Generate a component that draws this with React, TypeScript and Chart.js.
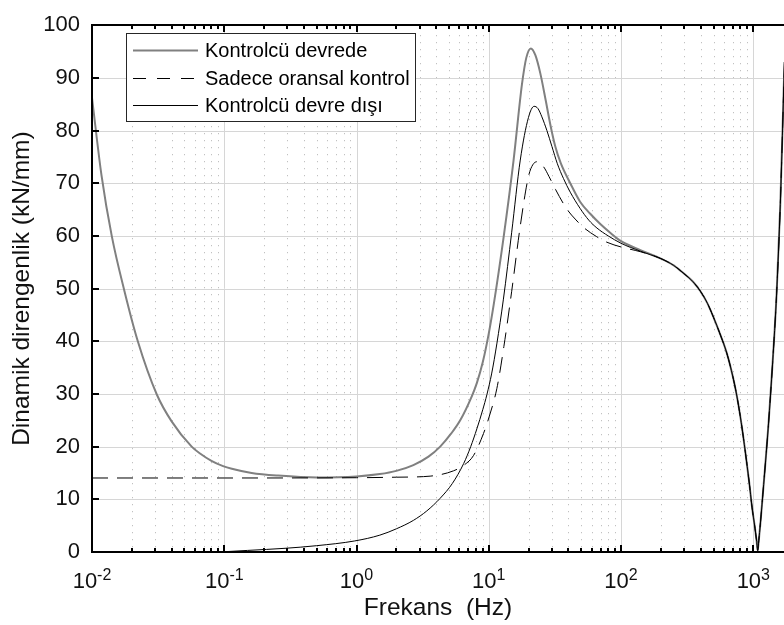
import React, { useEffect, useRef } from 'react';
import { Chart, registerables } from 'chart.js';

Chart.register(...registerables);

const FONT = "'Liberation Sans', Arial, Helvetica, sans-serif";

// Axis ranges and ticks
const xMin = 0.01;
const xMax = 1706;
const yMin = 0;
const yMax = 100;
const yStep = 10;
const xDecades = [-2, -1, 0, 1, 2, 3];
const xTickExponents = ['-2', '-1', '0', '1', '2', '3'];

const seriesNames = ['Kontrolcü devrede', 'Sadece oransal kontrol', 'Kontrolcü devre dışı'];
const xTitle = 'Frekans  (Hz)';
const yTitle = 'Dinamik direngenlik (kN/mm)';

// Shared high-frequency part (all three curves coincide above ~200 Hz)
const tailFreq = [200, 250, 297, 350, 398, 450, 501, 560, 631, 700, 751, 810, 870, 930, 978, 1030, 1060, 1079, 1100, 1130, 1197, 1300, 1400, 1500, 1600, 1720];
const tailVals = [55.7, 54.4, 52.9, 51.3, 49.5, 47.2, 44.5, 41.4, 37.7, 33.3, 29.6, 24.6, 19.0, 13.3, 8.5, 4.5, 2.0, 0.3, 2.2, 5.3, 12.8, 24.0, 36.0, 49.0, 66.0, 93.0];

// Kontrolcü devrede (gray)
const grayFreq = [0.01, 0.0118, 0.0141, 0.0176, 0.0222, 0.0309, 0.04, 0.0567, 0.0656, 0.08, 0.098, 0.114, 0.161, 0.256, 0.5, 1.0, 1.5, 2.0, 2.69, 3.5, 4.29, 5.2, 6.08, 7.45, 8.13, 9.0, 10.0, 10.9, 12.9, 15.4, 17.8, 19.2, 20.8, 22.5, 24.5, 27, 29.1, 31.8, 35, 41.3, 49, 58.5, 70, 82.8, 100, 140];
const grayVals = [86.2, 71.5, 60.0, 49.5, 40.0, 29.9, 24.8, 20.0, 18.7, 17.3, 16.3, 15.8, 15.0, 14.5, 14.15, 14.35, 14.8, 15.4, 16.5, 18.1, 20.0, 22.5, 25.0, 29.6, 32.1, 36.0, 41.5, 47.0, 59.5, 74.4, 88.7, 93.8, 95.6, 94.3, 90.9, 85.6, 81.3, 77.0, 73.8, 70.0, 66.5, 64.2, 62.2, 60.6, 59.0, 57.3];

// Sadece oransal kontrol (dashed)
const dashFreq = [0.01, 0.1, 1.0, 2.0, 3.6, 5.4, 6.5, 7.66, 9.12, 10.1, 11.5, 13.0, 14.9, 17.3, 19.96, 21.5, 23.4, 26.0, 28.5, 32.0, 38.9, 45, 52.1, 65, 78.2, 100, 140];
const dashVals = [14.05, 14.05, 14.1, 14.2, 14.4, 15.4, 16.5, 18.3, 22.5, 25.8, 31.0, 39.0, 49.5, 61.9, 71.3, 73.5, 74.1, 73.1, 71.3, 68.8, 65.1, 63.2, 61.6, 59.9, 58.8, 57.9, 57.0];

// Kontrolcü devre dışı (thin black)
const blackFreq = [0.1, 0.15, 0.288, 0.5, 0.97, 1.5, 2.0, 2.69, 3.4, 4.29, 5.3, 6.46, 7.3, 8.13, 9.0, 9.68, 10.5, 11.5, 12.9, 14.9, 17.3, 19.96, 22.0, 23.5, 25.2, 27.5, 30, 33, 36.7, 41.3, 49.1, 57, 65.7, 80, 100, 140];
const blackVals = [0.05, 0.3, 0.7, 1.2, 2.1, 3.2, 4.4, 6.0, 7.8, 10.2, 13.0, 16.8, 20.0, 23.4, 27.0, 29.9, 33.8, 39.5, 48.0, 60.7, 74.4, 82.5, 84.6, 84.2, 82.6, 80.0, 77.0, 73.7, 70.9, 68.3, 65.2, 63.0, 61.5, 60.0, 58.6, 57.1];

const toPoints = (fs: number[], vs: number[]) => fs.map((f, i) => ({ x: f, y: vs[i] }));

const W = 784;
const H = 625;

function minorFreqs(): number[] {
  const out: number[] = [];
  for (const d of xDecades) {
    for (let m = 2; m <= 9; m++) {
      const f = m * Math.pow(10, d);
      if (f > xMin && f < xMax) out.push(f);
    }
  }
  return out;
}

const matlabPlugin = {
  id: 'matlabAxes',
  beforeDatasetsDraw(chart: any) {
    const { ctx, chartArea: ca, scales } = chart;
    const xs = scales.x;
    const ys = scales.y;
    ctx.save();
    // minor dotted vertical grid
    ctx.strokeStyle = 'rgba(0,0,0,0.3)';
    ctx.lineWidth = 1;
    ctx.setLineDash([1, 6]);
    for (const f of minorFreqs()) {
      const px = Math.round(xs.getPixelForValue(f)) + 0.5;
      ctx.beginPath();
      ctx.moveTo(px, ca.top + 3);
      ctx.lineTo(px, ca.bottom);
      ctx.stroke();
    }
    // major grid
    ctx.setLineDash([]);
    ctx.strokeStyle = '#d6d6d6';
    for (const d of xDecades) {
      const f = Math.pow(10, d);
      if (f <= xMin || f >= xMax) continue;
      const px = Math.round(xs.getPixelForValue(f)) + 0.5;
      ctx.beginPath();
      ctx.moveTo(px, ca.top);
      ctx.lineTo(px, ca.bottom);
      ctx.stroke();
    }
    for (let v = yMin + yStep; v < yMax; v += yStep) {
      const py = Math.round(ys.getPixelForValue(v)) + 0.5;
      ctx.beginPath();
      ctx.moveTo(ca.left, py);
      ctx.lineTo(ca.right, py);
      ctx.stroke();
    }
    ctx.restore();
  },
  afterDraw(chart: any) {
    const { ctx, chartArea: ca, scales } = chart;
    const xs = scales.x;
    const ys = scales.y;
    ctx.save();
    ctx.strokeStyle = '#000';
    ctx.lineWidth = 2;
    // axis lines
    ctx.beginPath();
    ctx.moveTo(Math.round(ca.left), Math.round(ca.top));
    ctx.lineTo(Math.round(ca.left), Math.round(ca.bottom));
    ctx.moveTo(Math.round(ca.left) - 1, Math.round(ca.bottom));
    ctx.lineTo(ca.right, Math.round(ca.bottom));
    ctx.moveTo(Math.round(ca.left) - 1, Math.round(ca.top));
    ctx.lineTo(ca.right, Math.round(ca.top));
    ctx.stroke();
    // ticks (inward)
    const majorLen = 7;
    const minorLen = 4;
    const top = Math.round(ca.top);
    const bot = Math.round(ca.bottom);
    ctx.beginPath();
    for (const d of xDecades) {
      const f = Math.pow(10, d);
      if (f < xMin || f > xMax) continue;
      const px = Math.round(xs.getPixelForValue(f));
      ctx.moveTo(px, bot);
      ctx.lineTo(px, bot - majorLen);
      ctx.moveTo(px, top);
      ctx.lineTo(px, top + majorLen);
    }
    for (const f of minorFreqs()) {
      const px = Math.round(xs.getPixelForValue(f));
      ctx.moveTo(px, bot);
      ctx.lineTo(px, bot - minorLen);
      ctx.moveTo(px, top);
      ctx.lineTo(px, top + minorLen);
    }
    for (let v = yMin; v <= yMax; v += yStep) {
      const py = Math.round(ys.getPixelForValue(v));
      ctx.moveTo(Math.round(ca.left), py);
      ctx.lineTo(Math.round(ca.left) + majorLen, py);
    }
    ctx.stroke();

    // x tick labels with superscript exponents
    ctx.fillStyle = '#111';
    ctx.textBaseline = 'alphabetic';
    ctx.textAlign = 'left';
    xDecades.forEach((d, i) => {
      const f = Math.pow(10, d);
      if (f < xMin || f > xMax) return;
      const px = xs.getPixelForValue(f);
      ctx.font = `22px ${FONT}`;
      const w1 = ctx.measureText('10').width;
      ctx.font = `16px ${FONT}`;
      const w2 = ctx.measureText(xTickExponents[i]).width;
      const x0 = px - (w1 + w2) / 2;
      ctx.font = `22px ${FONT}`;
      ctx.fillText('10', x0, 588);
      ctx.font = `16px ${FONT}`;
      ctx.fillText(xTickExponents[i], x0 + w1, 580);
    });

    // legend
    const lx = 126.5, ly = 33.5, lw = 289, lh = 88;
    ctx.fillStyle = '#fff';
    ctx.fillRect(lx, ly, lw, lh);
    ctx.strokeStyle = '#262626';
    ctx.lineWidth = 1;
    ctx.strokeRect(lx, ly, lw, lh);
    const rows = [50, 78, 105];
    const styles = [
      { color: '#808080', width: 2, dash: [] as number[] },
      { color: '#000', width: 1, dash: [13, 11] },
      { color: '#000', width: 1, dash: [] as number[] },
    ];
    ctx.font = `20px ${FONT}`;
    ctx.textBaseline = 'middle';
    rows.forEach((ry, i) => {
      const s = styles[i];
      ctx.strokeStyle = s.color;
      ctx.lineWidth = s.width;
      ctx.setLineDash(s.dash);
      ctx.beginPath();
      ctx.moveTo(133, ry + 0.5);
      ctx.lineTo(198, ry + 0.5);
      ctx.stroke();
      ctx.setLineDash([]);
      ctx.fillStyle = '#000';
      ctx.fillText(seriesNames[i], 205, ry + 1);
    });
    ctx.restore();
  },
};

export default function App() {
  const canvasRef = useRef<HTMLCanvasElement | null>(null);

  useEffect(() => {
    if (!canvasRef.current) return;
    const chart = new Chart(canvasRef.current, {
      type: 'line',
      data: {
        datasets: [
          {
            label: seriesNames[0],
            data: toPoints([...grayFreq, ...tailFreq], [...grayVals, ...tailVals]),
            borderColor: '#808080',
            borderWidth: 2,
            pointRadius: 0,
            cubicInterpolationMode: 'monotone',
            order: 3,
          },
          {
            label: seriesNames[1],
            data: toPoints([...dashFreq, ...tailFreq], [...dashVals, ...tailVals]),
            borderColor: '#000',
            borderWidth: 1,
            borderDash: [16, 9],
            pointRadius: 0,
            cubicInterpolationMode: 'monotone',
            order: 2,
          },
          {
            label: seriesNames[2],
            data: toPoints([...blackFreq, ...tailFreq], [...blackVals, ...tailVals]),
            borderColor: '#000',
            borderWidth: 1,
            pointRadius: 0,
            cubicInterpolationMode: 'monotone',
            order: 1,
          },
        ],
      },
      options: {
        animation: false,
        responsive: true,
        maintainAspectRatio: false,
        layout: { padding: { top: 16, left: 0, right: 0, bottom: 0 } },
        plugins: {
          legend: { display: false },
          tooltip: { enabled: false },
        },
        scales: {
          x: {
            type: 'logarithmic',
            min: xMin,
            max: xMax,
            grid: { display: false },
            border: { display: false },
            ticks: { display: false },
            title: {
              display: true,
              text: xTitle,
              color: '#111',
              font: { family: FONT, size: 24.5 },
              padding: { top: 0, bottom: 2 },
            },
            afterFit: (scale: any) => {
              scale.height = 73;
            },
          },
          y: {
            type: 'linear',
            min: yMin,
            max: yMax,
            grid: { display: false, drawTicks: false },
            border: { display: false },
            ticks: {
              stepSize: yStep,
              color: '#111',
              padding: 12,
              font: { family: FONT, size: 22 },
            },
            title: {
              display: true,
              text: yTitle,
              color: '#111',
              font: { family: FONT, size: 24.5 },
              padding: { top: 8, bottom: 0 },
            },
            afterFit: (scale: any) => {
              scale.width = 92;
            },
          },
        },
      },
      plugins: [matlabPlugin],
    });
    return () => chart.destroy();
  }, []);

  return (
    <div style={{ position: 'absolute', left: 0, top: 0, width: W, height: H }}>
      <canvas ref={canvasRef} />
    </div>
  );
}
